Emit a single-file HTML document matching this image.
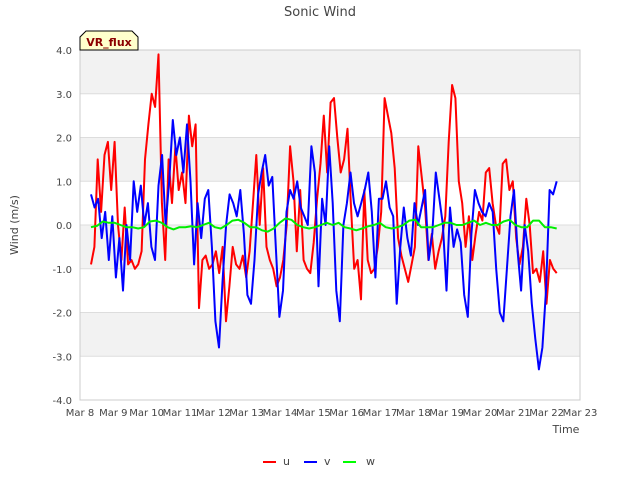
<!DOCTYPE html>
<html><head><meta charset="utf-8"><style>
body{margin:0;background:#fff;}
svg text{font-family:"DejaVu Sans","Liberation Sans",sans-serif;}
</style></head><body>
<svg id="chart" width="640" height="480" viewBox="0 0 640 480" xmlns="http://www.w3.org/2000/svg">
<text x="320" y="16" text-anchor="middle" font-size="13" fill="#444">Sonic Wind</text>
<text transform="translate(18,225) rotate(-90)" text-anchor="middle" font-size="11" fill="#444">Wind (m/s)</text>
<text x="566" y="433" text-anchor="middle" font-size="11" fill="#444">Time</text>
<g id="bands"></g>
<g id="grid"></g>
<g id="ticks"></g>
<g id="series"></g>
<rect x="80" y="50" width="500" height="350" fill="none" stroke="#ccc"/>
<g>
<path d="M80,50 L80,37 L86,31 L132,31 L138,37 L138,50 Z" fill="#ffffcc" stroke="#000" stroke-width="1"/>
<text x="109" y="46" text-anchor="middle" font-size="11" font-weight="bold" fill="#8b0000">VR_flux</text>
</g>
<g>
<line x1="263" y1="462" x2="276" y2="462" stroke="#f00" stroke-width="2"/>
<text x="283" y="465" font-size="11" fill="#444">u</text>
<line x1="304" y1="462" x2="317" y2="462" stroke="#00f" stroke-width="2"/>
<text x="324" y="465" font-size="11" fill="#444">v</text>
<line x1="343" y1="462" x2="356" y2="462" stroke="#0f0" stroke-width="2"/>
<text x="366" y="465" font-size="11" fill="#444">w</text>
</g>
</svg>
<script>
const xTickLabels=["Mar 8","Mar 9","Mar 10","Mar 11","Mar 12","Mar 13","Mar 14","Mar 15","Mar 16","Mar 17","Mar 18","Mar 19","Mar 20","Mar 21","Mar 22","Mar 23"];
const yTicks=[4,3,2,1,0,-1,-2,-3,-4];
const tStart=8.33, tEnd=22.3;
const uValues=[-0.9,-0.5,1.5,0.3,1.6,1.9,0.8,1.9,0.0,-0.8,0.4,-0.9,-0.8,-1.0,-0.9,-0.6,1.5,2.3,3.0,2.7,3.9,0.5,-0.8,1.5,0.5,1.8,0.8,1.2,0.5,2.5,1.8,2.3,-1.9,-0.8,-0.7,-1.0,-0.9,-0.6,-1.1,-0.5,-2.2,-1.4,-0.5,-0.9,-1.0,-0.7,-1.2,-0.6,0.5,1.6,0.0,1.3,-0.5,-0.8,-1.0,-1.4,-1.2,-0.8,0.0,1.8,1.0,-0.6,0.8,-0.8,-1.0,-1.1,-0.4,0.6,1.4,2.5,1.2,2.8,2.9,2.0,1.2,1.5,2.2,0.5,-1.0,-0.8,-1.7,0.8,-0.8,-1.1,-1.0,-0.5,0.3,2.9,2.5,2.1,1.3,-0.3,-0.7,-1.0,-1.3,-0.9,-0.5,1.8,1.1,0.4,-0.8,-0.2,-1.0,-0.6,-0.3,0.2,1.9,3.2,2.9,1.0,0.5,-0.5,0.2,-0.8,-0.2,0.3,0.1,1.2,1.3,0.5,0.0,-0.2,1.4,1.5,0.8,1.0,-0.3,-0.9,-0.5,0.6,0.0,-1.1,-1.0,-1.3,-0.6,-1.8,-0.8,-1.0,-1.1];
const vValues=[0.7,0.4,0.6,-0.3,0.3,-0.8,0.2,-1.2,-0.3,-1.5,0.0,-0.8,1.0,0.3,0.9,0.0,0.5,-0.5,-0.8,0.9,1.6,0.0,1.0,2.4,1.6,2.0,1.2,2.3,1.0,-0.9,0.5,-0.3,0.6,0.8,-0.5,-2.2,-2.8,-1.3,0.0,0.7,0.5,0.2,0.8,-0.2,-1.6,-1.8,-0.8,0.7,1.2,1.6,0.9,1.1,-0.5,-2.1,-1.5,0.3,0.8,0.6,1.0,0.4,0.2,0.0,1.8,1.2,-1.4,0.6,0.0,1.8,0.5,-1.5,-2.2,0.0,0.5,1.2,0.5,0.2,0.5,0.8,1.2,0.3,-1.2,0.6,0.6,1.0,0.4,0.2,-1.8,-0.5,0.4,-0.3,-0.7,0.5,0.0,0.4,0.8,-0.8,-0.2,1.2,0.6,0.0,-1.5,0.4,-0.5,-0.1,-0.4,-1.6,-2.1,-0.2,0.8,0.5,0.3,0.2,0.5,0.3,-1.0,-2.0,-2.2,-1.0,0.2,0.8,-0.6,-1.5,0.0,-0.6,-1.8,-2.6,-3.3,-2.8,-1.5,0.8,0.7,1.0];
const wValues=[-0.05,-0.02,0.08,0.05,0.05,0.0,-0.05,-0.05,-0.08,-0.05,0.08,0.10,0.05,-0.05,-0.1,-0.05,-0.05,-0.03,-0.05,0.0,0.05,-0.05,-0.08,0.0,0.1,0.12,0.05,-0.05,-0.05,-0.12,-0.15,-0.08,0.05,0.15,0.12,0.0,-0.05,-0.08,-0.05,0.0,0.05,0.0,0.05,-0.05,-0.08,-0.12,-0.08,-0.03,0.0,0.05,-0.05,-0.08,-0.05,0.0,0.10,0.12,-0.05,-0.05,-0.05,0.0,0.05,0.05,0.0,0.0,0.05,0.1,0.0,0.05,0.0,0.0,0.08,0.12,0.0,-0.05,-0.05,0.1,0.1,-0.05,-0.05,-0.08];
const svg=document.getElementById('chart');
const NS='http://www.w3.org/2000/svg';
const X0=80,X1=580,Y0=50,Y1=400;
function xScale(d){return X0+(d-8)/15*(X1-X0);}
function yScale(v){return Y1-(v+4)/8*(Y1-Y0);}
function mk(tag,attrs,parent){const e=document.createElementNS(NS,tag);for(const k in attrs)e.setAttribute(k,attrs[k]);parent.appendChild(e);return e;}
const bands=document.getElementById('bands'),grid=document.getElementById('grid'),ticks=document.getElementById('ticks');
for(let i=0;i<yTicks.length-1;i++){
  const top=yTicks[i],bot=yTicks[i+1];
  const r=mk('rect',{x:X0,y:yScale(top),width:X1-X0,height:yScale(bot)-yScale(top),fill:(i%2===0)?'#f2f2f2':'#ffffff'},bands);
  
  
}
yTicks.forEach(v=>{
  const l=mk('line',{x1:X0,x2:X1,y1:yScale(v),y2:yScale(v),stroke:'#dddddd'},grid);
  
  
  const t=mk('text',{x:X0-8,y:yScale(v)+4,'text-anchor':'end','font-size':'10',fill:'#444'},ticks);
  t.textContent=v.toFixed(1);
  
  
});
xTickLabels.forEach((lab,i)=>{
  const t=mk('text',{x:xScale(8+i),y:Y1+16,'text-anchor':'middle','font-size':'10',fill:'#444'},ticks);
  t.textContent=lab;
  
  
});
const series=document.getElementById('series');
function drawLine(vals,color,name){
  const n=vals.length;
  const pts=vals.map((v,i)=>xScale(tStart+(tEnd-tStart)*i/(n-1)).toFixed(1)+','+yScale(v).toFixed(1)).join(' ');
  const p=mk('polyline',{points:pts,fill:'none',stroke:color,'stroke-width':'2','stroke-linejoin':'round'},series);
  
  
}
drawLine(uValues,'#ff0000','series-u-line');
drawLine(vValues,'#0000ff','series-v-line');
drawLine(wValues,'#00ee00','series-w-line');
</script>
</body></html>
